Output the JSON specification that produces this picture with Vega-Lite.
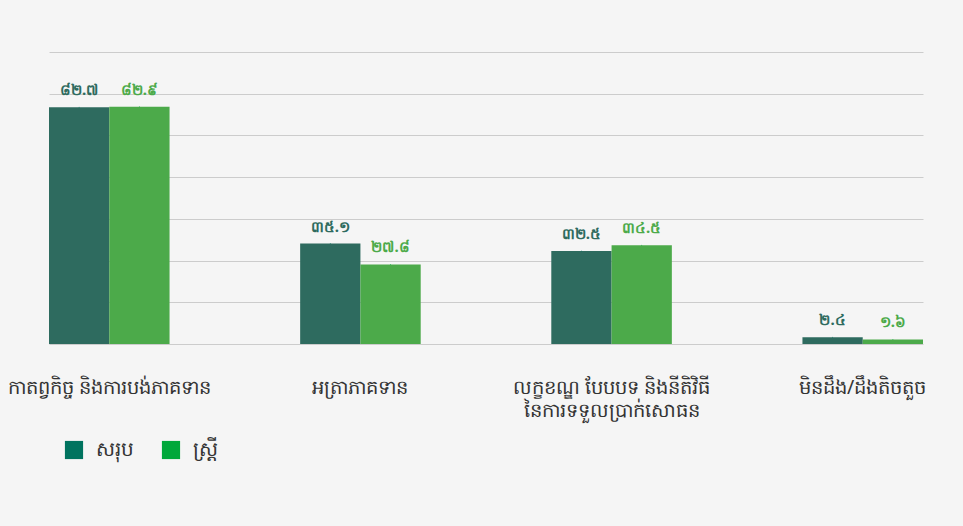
{
  "$schema": "https://vega.github.io/schema/vega-lite/v6.json",
  "autosize": {"type": "none"},
  "width": 874,
  "height": 292,
  "padding": {"left": 49, "top": 52, "right": 40, "bottom": 182},
  "background": "#f5f5f5",
  "config": {
    "view": {"stroke": null},
    "font": "Noto Sans"
  },
  "data": {
    "values": [
      {"cat": "កាតព្វកិច្ច និងការបង់ភាគទាន", "series": "សរុប", "value": 82.7, "label": "៨២.៧"},
      {"cat": "កាតព្វកិច្ច និងការបង់ភាគទាន", "series": "ស្ត្រី", "value": 82.9, "label": "៨២.៩"},
      {"cat": "អត្រាភាគទាន", "series": "សរុប", "value": 35.1, "label": "៣៥.១"},
      {"cat": "អត្រាភាគទាន", "series": "ស្ត្រី", "value": 27.8, "label": "២៧.៨"},
      {"cat": "លក្ខខណ្ឌ បែបបទ និងនីតិវិធី|នៃការទទួលប្រាក់សោធន", "series": "សរុប", "value": 32.5, "label": "៣២.៥"},
      {"cat": "លក្ខខណ្ឌ បែបបទ និងនីតិវិធី|នៃការទទួលប្រាក់សោធន", "series": "ស្ត្រី", "value": 34.5, "label": "៣៤.៥"},
      {"cat": "មិនដឹង/ដឹងតិចតួច", "series": "សរុប", "value": 2.4, "label": "២.៤"},
      {"cat": "មិនដឹង/ដឹងតិចតួច", "series": "ស្ត្រី", "value": 1.6, "label": "១.៦"}
    ]
  },
  "encoding": {
    "x": {
      "field": "cat", "type": "nominal", "sort": null, "title": null,
      "scale": {"paddingInner": 0.52, "paddingOuter": 0.0},
      "axis": {
        "labelAngle": 0, "labelLimit": 0, "ticks": false, "domain": false,
        "labelFontSize": 19.5, "labelColor": "#333333", "labelPadding": 34,
        "labelExpr": "split(datum.label, '|')", "labelLineHeight": 23
      }
    },
    "xOffset": {"field": "series", "type": "nominal", "sort": ["សរុប", "ស្ត្រី"], "scale": {"paddingInner": 0}},
    "y": {
      "field": "value", "type": "quantitative", "title": null,
      "scale": {"domain": [0, 102], "nice": false},
      "axis": {
        "values": [0, 14.571, 29.143, 43.714, 58.286, 72.857, 87.429, 102],
        "labels": false, "ticks": false, "domain": false,
        "gridColor": "#cccccc", "gridWidth": 1
      }
    }
  },
  "resolve": {"legend": {"color": "independent", "fill": "independent"}},
  "layer": [
    {
      "mark": {"type": "bar"},
      "encoding": {
        "color": {
          "field": "series", "type": "nominal",
          "scale": {"domain": ["សរុប", "ស្ត្រី"], "range": ["#2e6b5f", "#4caa4a"]},
          "legend": null
        }
      }
    },
    {
      "mark": {"type": "text", "dy": -17, "fontSize": 15, "fontWeight": "bold"},
      "encoding": {
        "text": {"field": "label"},
        "color": {
          "field": "series", "type": "nominal",
          "scale": {"domain": ["សរុប", "ស្ត្រី"], "range": ["#2e6b5f", "#4caa4a"]},
          "legend": null
        }
      }
    },
    {
      "mark": {"type": "point", "size": 1, "filled": true, "strokeWidth": 0},
      "encoding": {
        "fill": {
          "field": "series", "type": "nominal",
          "scale": {"domain": ["សរុប", "ស្ត្រី"], "range": ["#00735f", "#00a83a"]},
          "legend": {
            "title": null, "orient": "none", "direction": "horizontal",
            "legendX": 15, "legendY": 388,
            "symbolType": "square", "symbolSize": 330, "symbolOpacity": 1,
            "symbolStrokeWidth": 0,
            "labelFontSize": 20, "labelColor": "#333333",
            "columnPadding": 27, "labelOffset": 12
          }
        }
      }
    }
  ]
}
